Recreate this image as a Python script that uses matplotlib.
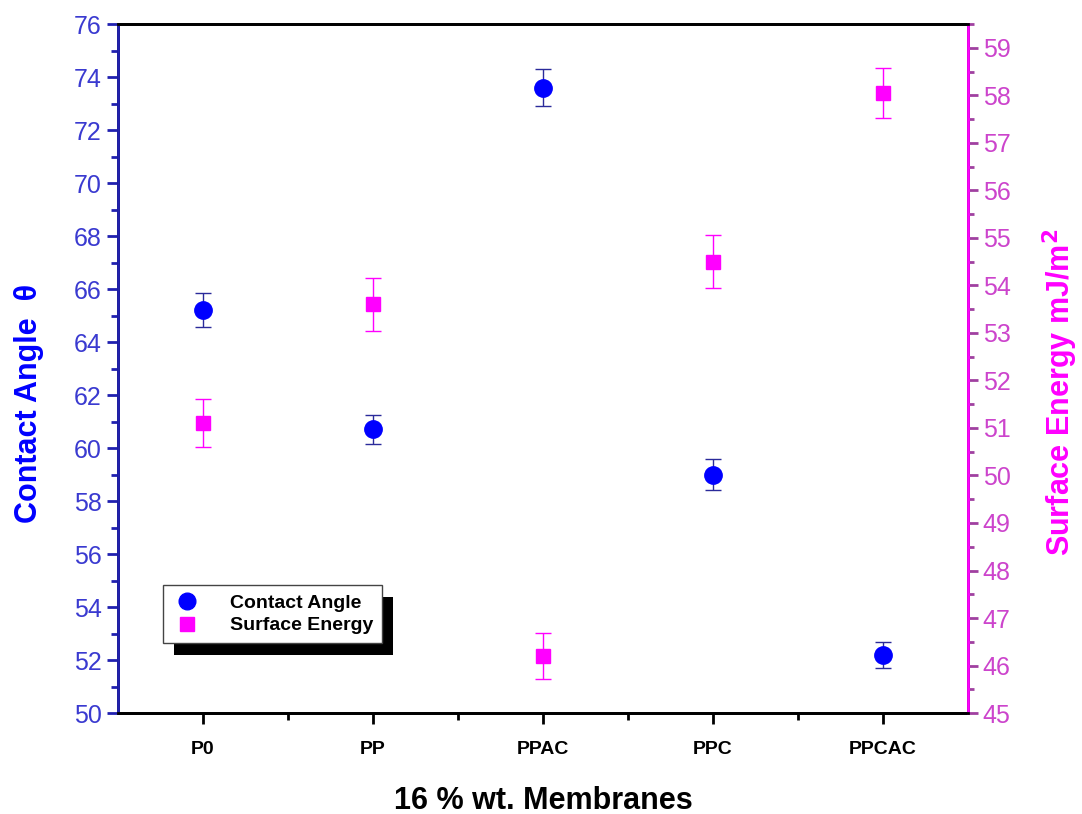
import matplotlib
matplotlib.use('Agg')
import matplotlib.pyplot as plt
import numpy as np
from matplotlib.patches import Rectangle
from matplotlib.lines import Line2D
from matplotlib.ticker import MultipleLocator, FixedLocator

plt.rcParams['font.family'] = ['Liberation Sans', 'DejaVu Sans']

membranes = ['P0', 'PP', 'PPAC', 'PPC', 'PPCAC']
contact_angle = [65.2, 60.7, 73.6, 59.0, 52.2]
contact_err = [0.65, 0.55, 0.7, 0.6, 0.5]
surface_energy = [51.1, 53.6, 46.2, 54.5, 58.05]
surface_err = [0.5, 0.55, 0.48, 0.55, 0.53]

blue = '#0000ff'
blue_txt = '#3a3ad0'
blue_ax = '#2020b0'
mag = '#ff00ff'
mag_txt = '#cc44cc'

fig = plt.figure(figsize=(10.82, 8.14), dpi=100)
ax = fig.add_axes([0.109, 0.124, 0.7856, 0.8465])
ax2 = ax.twinx()

x = np.arange(1, len(membranes) + 1)

ax.errorbar(x, contact_angle, yerr=contact_err, fmt='o', color=blue, ms=12.5,
            ecolor='#2a2a9a', elinewidth=1, capsize=6, capthick=1, zorder=3)
ax2.errorbar(x, surface_energy, yerr=surface_err, fmt='s', color=mag, ms=10,
             ecolor=mag, elinewidth=1, capsize=6, capthick=1, zorder=3)

ax.set_xlim(0.5, 5.5)
ax.set_ylim(50, 76)
ax2.set_ylim(45, 59.5)

ax.set_xticks(x)
ax.set_xticklabels(membranes, fontsize=14, fontweight='bold')
ax.xaxis.set_minor_locator(FixedLocator([1.5, 2.5, 3.5, 4.5]))
ax.yaxis.set_major_locator(MultipleLocator(2))
ax.yaxis.set_minor_locator(MultipleLocator(1))
ax2.yaxis.set_major_locator(MultipleLocator(1))
ax2.yaxis.set_minor_locator(MultipleLocator(0.5))

ax.tick_params(axis='x', which='both', direction='out', colors='black', width=2)
ax.tick_params(axis='x', which='major', length=8, pad=12)
ax.tick_params(axis='x', which='minor', length=5)
ax.tick_params(axis='y', which='both', direction='out', color=blue_ax, width=2,
               labelcolor=blue_txt, labelsize=18)
ax.tick_params(axis='y', which='major', length=8)
ax.tick_params(axis='y', which='minor', length=5)
ax2.tick_params(axis='y', which='both', direction='out', color='#a040a0', width=2,
                labelcolor=mag_txt, labelsize=18)
ax2.tick_params(axis='y', which='major', length=7)
ax2.tick_params(axis='y', which='minor', length=4)

for a in (ax, ax2):
    for s in a.spines.values():
        s.set_linewidth(2)
ax2.spines['left'].set_color(blue_ax)
ax2.spines['right'].set_color(mag)
ax2.spines['top'].set_color('black')
ax2.spines['bottom'].set_color('black')

ax.set_xlabel('16 % wt. Membranes', fontsize=22, fontweight='bold')
ax.xaxis.set_label_coords(0.5, -0.106)
ax.set_ylabel('Contact Angle  \u03b8', fontsize=22, fontweight='bold', color=blue)
ax.yaxis.set_label_coords(-0.087, 0.45)
ax2.set_ylabel('Surface Energy mJ/m$^\\mathbf{2}$', fontsize=22, fontweight='bold',
               color=mag)
ax2.yaxis.set_label_coords(1.085, 0.465)

handles = [Line2D([], [], ls='none', marker='o', color=blue, ms=12),
           Line2D([], [], ls='none', marker='s', color=mag, ms=10)]
leg = ax2.legend(handles, ['Contact Angle', 'Surface Energy'], loc='lower left',
                 bbox_to_anchor=(0.053, 0.1016), borderaxespad=0, fancybox=False,
                 framealpha=1, edgecolor='#444444', prop={'weight': 'bold', 'size': 14},
                 borderpad=0.45, labelspacing=0.25, handletextpad=1.4,
                 handlelength=1.6)
leg.get_frame().set_linewidth(1)
leg.set_zorder(10)

fig.canvas.draw()
bb = leg.get_window_extent()
inv = ax2.transAxes.inverted()
(x0, y0) = inv.transform((bb.x0 + 11, bb.y0 - 12))
(x1, y1) = inv.transform((bb.x1 + 11, bb.y1 - 12))
ax2.add_patch(Rectangle((x0, y0), x1 - x0, y1 - y0, transform=ax2.transAxes,
                        facecolor='black', edgecolor='none', zorder=9, clip_on=False))

fig.savefig('out.png', dpi=100)
